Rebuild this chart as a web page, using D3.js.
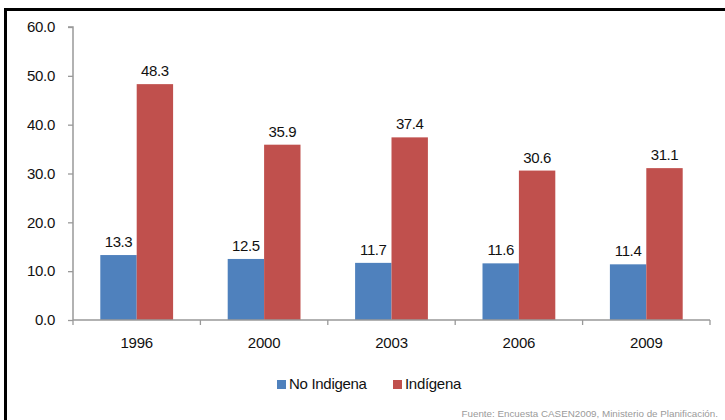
<!DOCTYPE html>
<html>
<head>
<meta charset="utf-8">
<script src="https://cdn.jsdelivr.net/npm/d3@7"></script>
<style>
  html, body { margin: 0; padding: 0; background: #fff; }
  svg { display: block; font-family: "Liberation Sans", Arial, sans-serif; }
</style>
</head>
<body>
<svg id="chart" width="725" height="420"></svg>
<script>
const categories = ["1996", "2000", "2003", "2006", "2009"];
const seriesNames = ["No Indigena", "Indígena"];
const noIndigena = [13.3, 12.5, 11.7, 11.6, 11.4];
const indigena = [48.3, 35.9, 37.4, 30.6, 31.1];
const yTicks = [0, 10, 20, 30, 40, 50, 60];
const colors = ["#4F81BD", "#C0504D"];
const sourceText = "Fuente: Encuesta CASEN2009, Ministerio de Planificación.";

(function () {
const svg = d3.select("#chart");
const FS = "15px";

// frame (left and top heavy lines)
svg.append("rect").attr("x", 4).attr("y", 8).attr("width", 721).attr("height", 3).attr("fill", "#000");
svg.append("rect").attr("x", 4).attr("y", 8).attr("width", 3).attr("height", 412).attr("fill", "#000");

const mLeft = 73, mRight = 710, mTop = 27, mBottom = 320;

const x = d3.scaleBand().domain(categories).range([mLeft, mRight]).paddingInner(0).paddingOuter(0);
const sub = d3.scaleBand().domain(seriesNames).range([0, x.bandwidth()]).paddingInner(0).paddingOuter(0.75);
const y = d3.scaleLinear().domain([0, 60]).range([mBottom, mTop]);

const data = categories.map((c, i) => ({ cat: c, vals: [noIndigena[i], indigena[i]] }));

// bars
const g = svg.append("g");
const groups = g.selectAll("g.cat").data(data).join("g")
  .attr("transform", d => `translate(${x(d.cat)},0)`);

const items = d => d.vals.map((v, j) => ({ v, key: seriesNames[j], j }));
groups.selectAll("rect").data(items)
  .join("rect")
  .attr("x", d => sub(d.key))
  .attr("width", sub.bandwidth())
  .attr("y", d => y(d.v))
  .attr("height", d => y(0) - y(d.v))
  .attr("fill", d => colors[d.j]);

groups.selectAll("text").data(items)
  .join("text")
  .attr("x", d => sub(d.key) + sub.bandwidth() / 2)
  .attr("y", d => y(d.v) - 8)
  .attr("text-anchor", "middle")
  .attr("font-size", FS)
  .attr("letter-spacing", "-0.4px")
  .attr("fill", "#111")
  .text(d => d.v.toFixed(1));

// y axis
const yAxis = d3.axisLeft(y).tickValues(yTicks).tickFormat(d => d.toFixed(1)).tickSize(5).tickPadding(13);
const yg = svg.append("g").attr("transform", `translate(${mLeft},0)`).call(yAxis);
yg.select(".domain").attr("stroke", "#999").attr("stroke-width", 1.5).attr("d", `M-5,${mTop}H0V${mBottom}`);
yg.selectAll(".tick line").attr("stroke", "#999").attr("stroke-width", 1.3);
yg.selectAll(".tick text").attr("font-size", FS).attr("letter-spacing", "-0.3px")
  .attr("fill", "#111").attr("font-family", "Liberation Sans, Arial, sans-serif");

// x axis
const xg = svg.append("g").attr("transform", `translate(0,${mBottom})`)
  .call(d3.axisBottom(x).tickSize(0).tickPadding(17));
xg.select(".domain").attr("stroke", "#999").attr("stroke-width", 1.5).attr("d", `M${mLeft},0H${mRight}`);
xg.selectAll(".tick text").attr("font-size", FS).attr("letter-spacing", "-0.2px")
  .attr("fill", "#111").attr("font-family", "Liberation Sans, Arial, sans-serif");
const bounds = categories.map(c => x(c)).concat([mRight]);
svg.append("g").selectAll("line").data(bounds).join("line")
  .attr("x1", d => d).attr("x2", d => d)
  .attr("y1", mBottom).attr("y2", mBottom + 5)
  .attr("stroke", "#999").attr("stroke-width", 1.3);

// legend
const legendX = [277, 393];
const lg = svg.append("g");
seriesNames.forEach((n, i) => {
  lg.append("rect").attr("x", legendX[i]).attr("y", 380).attr("width", 9).attr("height", 9).attr("fill", colors[i]);
  lg.append("text").attr("x", legendX[i] + 12).attr("y", 389)
    .attr("font-size", FS).attr("letter-spacing", "-0.3px").attr("fill", "#111").text(n);
});

// source
svg.append("text").attr("x", 718).attr("y", 417).attr("text-anchor", "end")
  .attr("font-size", "9.8px").attr("fill", "#9a9a9a").text(sourceText);
})();
</script>
</body>
</html>
